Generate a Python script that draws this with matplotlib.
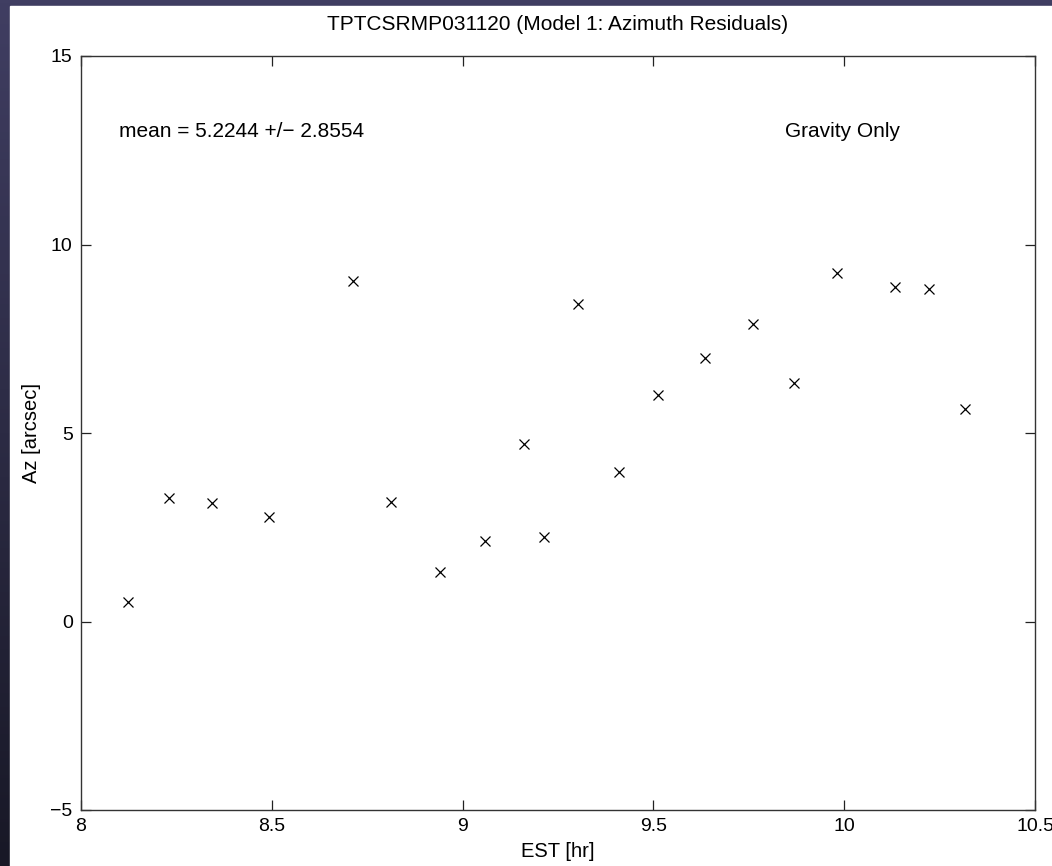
import numpy as np
import matplotlib
matplotlib.use("Agg")
import matplotlib.pyplot as plt
from matplotlib.colors import LinearSegmentedColormap

# EST [hr] and azimuth residuals [arcsec]
est = [8.122, 8.230, 8.343, 8.493, 8.713, 8.813, 8.940, 9.058, 9.161, 9.213,
       9.302, 9.411, 9.513, 9.636, 9.760, 9.868, 9.981, 10.132, 10.223, 10.316]
az = [0.51, 3.28, 3.13, 2.77, 9.04, 3.17, 1.31, 2.13, 4.70, 2.24,
      8.42, 3.96, 6.00, 6.99, 7.88, 6.33, 9.25, 8.86, 8.82, 5.63]

title = "TPTCSRMP031120 (Model 1: Azimuth Residuals)"
mean_txt = "mean = 5.2244 +/\u2212 2.8554"
note_txt = "Gravity Only"

plt.rcParams['font.family'] = ['Liberation Sans', 'DejaVu Sans']

fig = plt.figure(figsize=(10.52, 8.66), dpi=100)

# dark frame around the white sheet (top and left strips)
bg = fig.add_axes([0, 0, 1, 1])
grad = np.linspace(0, 1, 256).reshape(-1, 1)
cmap = LinearSegmentedColormap.from_list("frame", ["#403e62", "#181826"])
bg.imshow(grad, aspect='auto', cmap=cmap, extent=[0, 1, 0, 1], origin='upper')
bg.add_patch(plt.Rectangle((10 / 1052, 0), 1, 1 - 6 / 866, color='white', zorder=2))
bg.set_xlim(0, 1)
bg.set_ylim(0, 1)
bg.axis('off')

ax = fig.add_axes([81 / 1052, 1 - 810 / 866, (1035 - 81) / 1052, (810 - 56) / 866])
ax.plot(est, az, 'x', color='black', markersize=7, markeredgewidth=0.9)

ax.set_xlim(8, 10.5)
ax.set_ylim(-5, 15)
ax.set_xticks([8, 8.5, 9, 9.5, 10, 10.5])
ax.set_xticklabels(['8', '8.5', '9', '9.5', '10', '10.5'])
ax.set_yticks([-5, 0, 5, 10, 15])
ax.set_yticklabels(['\u22125', '0', '5', '10', '15'])
ax.tick_params(direction='in', length=7, width=0.9, top=True, right=True,
               labelsize=14, pad=6, color='#222222')
for s in ax.spines.values():
    s.set_linewidth(1.0)
    s.set_color('#333333')

ax.set_title(title, fontsize=15, pad=19)
ax.set_xlabel("EST [hr]", fontsize=14.5, labelpad=5)
ax.set_ylabel("Az [arcsec]", fontsize=14.5, labelpad=7)

ax.text(8.10, 13.0, mean_txt, fontsize=15, va='center', ha='left')
ax.text(9.845, 13.0, note_txt, fontsize=15, va='center', ha='left')

fig.savefig("out.png", dpi=100)
